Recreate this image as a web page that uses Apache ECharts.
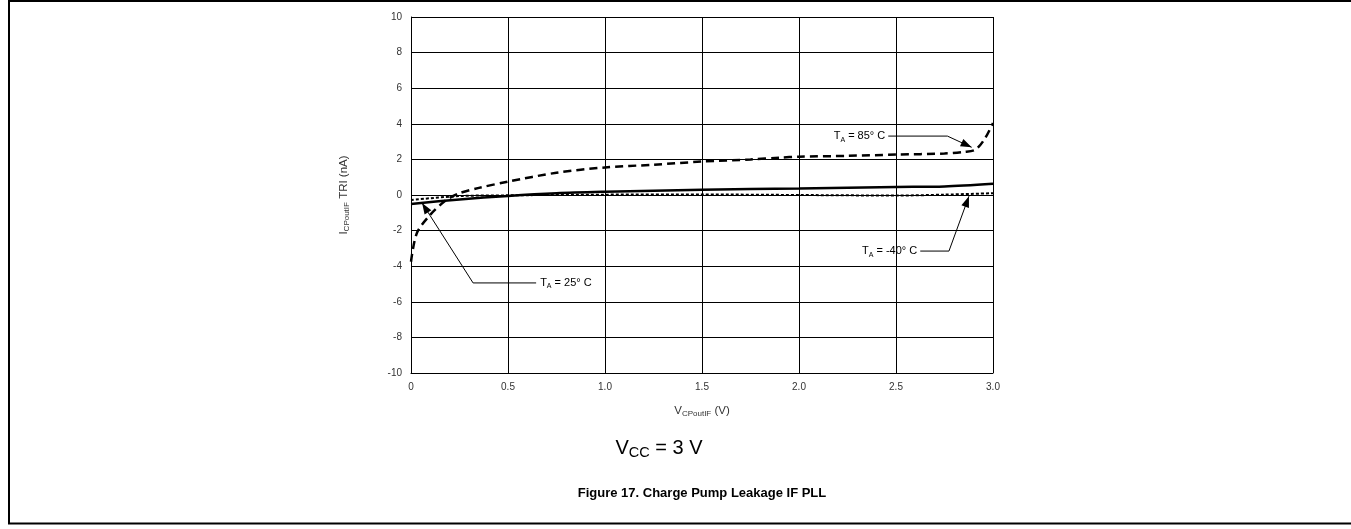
<!DOCTYPE html>
<html>
<head>
<meta charset="utf-8">
<script src="https://cdn.jsdelivr.net/npm/echarts@6/dist/echarts.min.js"></script>
<style>
html,body{margin:0;padding:0;background:#fff;}
#c{width:1351px;height:529px;}
</style>
</head>
<body>
<div id="c"></div>
<script>
// ---- data ----
var xTicks = [0, 0.5, 1.0, 1.5, 2.0, 2.5, 3.0];
var xTickLabels = ['0', '0.5', '1.0', '1.5', '2.0', '2.5', '3.0'];
var yTicks = [-10, -8, -6, -4, -2, 0, 2, 4, 6, 8, 10];

var v85 = [0, 0.03, 0.1, 0.18, 0.25, 0.35, 0.5, 0.75, 1.0, 1.25, 1.5, 1.75, 1.9, 2.0, 2.25, 2.5, 2.75, 2.85, 2.91, 2.96, 3.0];
var i85 = [-3.75, -2.15, -1.1, -0.3, 0.1, 0.4, 0.75, 1.25, 1.55, 1.7, 1.88, 2.0, 2.1, 2.15, 2.2, 2.27, 2.33, 2.42, 2.55, 3.2, 4.05];

var v25 = [0, 0.25, 0.5, 0.75, 1.0, 1.5, 2.0, 2.5, 2.75, 3.0];
var i25 = [-0.5, -0.25, -0.05, 0.1, 0.18, 0.3, 0.37, 0.45, 0.48, 0.63];

var vm40 = [0, 0.25, 0.5, 1.0, 1.5, 2.0, 2.5, 2.75, 3.0];
var im40 = [-0.28, -0.06, -0.02, 0.02, 0.03, 0.0, -0.03, 0.02, 0.1];

// annotation call-outs: polyline points in data coords (first = label end, last = arrow tip)
var notes = [
  {temp: ' = 85° C', side: 'left',  pts: [[2.46, 3.31], [2.765, 3.31], [2.89, 2.68]]},
  {temp: ' = 25° C', side: 'right', pts: [[0.645, -4.94], [0.32, -4.94], [0.057, -0.45]]},
  {temp: ' = -40° C', side: 'left', pts: [[2.625, -3.15], [2.773, -3.15], [2.876, -0.07]]}
];

function zip(a, b) { return a.map(function (v, i) { return [v, b[i]]; }); }

var chart = echarts.init(document.getElementById('c'));
var FONT = 'Liberation Sans, Arial, sans-serif';

var option = {
  animation: false,
  backgroundColor: '#fff',
  grid: {left: 411, right: 358, top: 17, bottom: 156, show: false},
  xAxis: {
    type: 'value', min: 0, max: 3, interval: 0.5,
    axisLine: {show: true, onZero: false, lineStyle: {color: '#000', width: 1}},
    axisTick: {show: false},
    splitLine: {show: true, lineStyle: {color: '#000', width: 1}},
    axisLabel: {
      margin: 9, color: '#333', fontFamily: FONT, fontSize: 10,
      formatter: function (v) { var i = xTicks.indexOf(v); return i >= 0 ? xTickLabels[i] : ''; }
    },
    name: '{v|V}{s|CPoutIF}{v| (V)}',
    nameLocation: 'middle', nameGap: 31,
    nameTextStyle: {
      color: '#333', fontFamily: FONT,
      rich: {
        v: {fontSize: 11.5, lineHeight: 14, fontFamily: FONT, color: '#333'},
        s: {fontSize: 8, lineHeight: 8, verticalAlign: 'bottom', fontFamily: FONT, color: '#333'}
      }
    }
  },
  yAxis: {
    type: 'value', min: -10, max: 10, interval: 2,
    axisLine: {show: true, lineStyle: {color: '#000', width: 1}},
    axisTick: {show: false},
    splitLine: {show: true, lineStyle: {color: '#000', width: 1}},
    axisLabel: {margin: 9, color: '#333', fontFamily: FONT, fontSize: 10},
    name: '{v|I}{s|CPoutIF}{v| TRI (nA)}',
    nameLocation: 'middle', nameGap: 60, nameRotate: 90,
    nameTextStyle: {
      color: '#333', fontFamily: FONT,
      rich: {
        v: {fontSize: 11.5, lineHeight: 14, fontFamily: FONT, color: '#333'},
        s: {fontSize: 8, lineHeight: 8, verticalAlign: 'bottom', fontFamily: FONT, color: '#333'}
      }
    }
  },
  series: [
    {
      name: '85', type: 'line', data: zip(v85, i85), showSymbol: false, smooth: 0.3,
      lineStyle: {color: '#000', width: 2.5, type: [8, 5]}, z: 5
    },
    {
      name: '25', type: 'line', data: zip(v25, i25), showSymbol: false, smooth: 0.3,
      lineStyle: {color: '#000', width: 2.5, type: 'solid'}, z: 4
    },
    {
      name: '-40', type: 'line', data: zip(vm40, im40), showSymbol: false, smooth: 0.3,
      lineStyle: {color: '#000', width: 2, type: [3, 2]}, z: 6
    }
  ]
};
chart.setOption(option);

function buildGraphics() {
  var g = [];
  // outer frame (top, left, bottom)
  g.push({type: 'polyline', shape: {points: [[1351, 1], [9, 1], [9, 523.5], [1351, 523.5]]},
    style: {fill: null, stroke: '#000', lineWidth: 2}, silent: true, z: 0});

  notes.forEach(function (n) {
    var px = n.pts.map(function (p) { return chart.convertToPixel({gridIndex: 0}, p); });
    g.push({type: 'polyline', shape: {points: px}, style: {stroke: '#000', lineWidth: 1, fill: null}, z: 20});
    var a = px[px.length - 2], b = px[px.length - 1];
    var ang = Math.atan2(b[1] - a[1], b[0] - a[0]);
    var L = 11, W = 4;
    var bx = b[0] - L * Math.cos(ang), by = b[1] - L * Math.sin(ang);
    var nx = -Math.sin(ang) * W, ny = Math.cos(ang) * W;
    g.push({type: 'polygon', shape: {points: [b, [bx + nx, by + ny], [bx - nx, by - ny]]},
      style: {fill: '#000'}, z: 21});
    var p0 = px[0];
    g.push({
      type: 'text', z: 22,
      x: n.side === 'left' ? p0[0] - 3 : p0[0] + 4, y: p0[1],
      style: {
        text: '{t|T}{s|A}{t|' + n.temp + '}',
        align: n.side === 'left' ? 'right' : 'left', verticalAlign: 'middle',
        fontFamily: FONT,
        rich: {
          t: {fontSize: 11, lineHeight: 14, fontFamily: FONT, fill: '#000'},
          s: {fontSize: 7, lineHeight: 7, verticalAlign: 'bottom', fontFamily: FONT, fill: '#000'}
        }
      }
    });
  });

  g.push({
    type: 'text', x: 659, y: 448, z: 22,
    style: {
      text: '{v|V}{s|CC}{v| = 3 V}', align: 'center', verticalAlign: 'middle', fontFamily: FONT,
      rich: {
        v: {fontSize: 20, lineHeight: 24, fontFamily: FONT, fill: '#000'},
        s: {fontSize: 14.5, lineHeight: 14, verticalAlign: 'bottom', fontFamily: FONT, fill: '#000'}
      }
    }
  });
  g.push({
    type: 'text', x: 702, y: 493, z: 22,
    style: {
      text: 'Figure 17. Charge Pump Leakage IF PLL', align: 'center', verticalAlign: 'middle',
      fontFamily: FONT, fontSize: 13, fontWeight: 'bold', fill: '#000'
    }
  });
  chart.setOption({graphic: g});
}
buildGraphics();
</script>
</body>
</html>
